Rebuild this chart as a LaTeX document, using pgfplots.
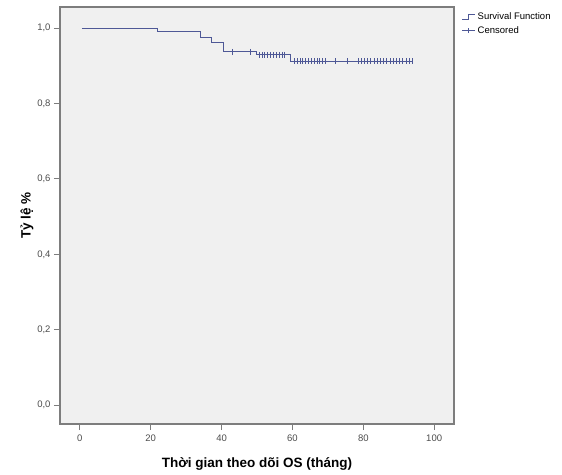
\documentclass[border=0pt]{standalone}
\usepackage{pgfplots}
\pgfplotsset{compat=1.18}
\usepackage{fontspec}
\setmainfont{Liberation Sans}
\definecolor{kmline}{RGB}{78,88,150}
\definecolor{plotbg}{RGB}{240,240,240}
\definecolor{framegray}{RGB}{125,125,125}
\begin{document}
\begin{tikzpicture}
\path[use as bounding box] (-60pt,-50pt) rectangle (502pt,424pt);
\begin{axis}[
  scale only axis, width=394pt, height=417pt,
  at={(0pt,0pt)}, anchor=south west,
  xmin=-5.6, xmax=105.6, ymin=-0.05, ymax=1.056,
  xtick={0,20,...,100}, ytick={0,0.2,...,1.0},
  tick align=outside, tick pos=left,
  major tick length=6pt,
  every tick/.style={framegray, line width=0.9pt},
  axis line style={framegray, line width=1.2pt},
  axis background/.style={fill=plotbg},
  /pgf/number format/assume math mode=true,
  yticklabel style={/pgf/number format/.cd, fixed, fixed zerofill, precision=1, use comma},
  xticklabel style={yshift=-1pt},
  tick label style={font=\fontsize{9.5}{10}\selectfont, text=black!70},
  xlabel={\textbf{Thời gian theo dõi OS (tháng)}},
  ylabel={\textbf{Tỷ lệ \%}},
  label style={font=\fontsize{13.5}{15}\selectfont},
  xlabel style={yshift=-9pt},
  ylabel style={yshift=-3pt},
  legend style={at={(1.02,0.993)}, anchor=north west, draw=none, fill=none,
    font=\fontsize{9.5}{10}\selectfont, inner sep=0pt, row sep=2pt},
  legend cell align=left,
]
\addplot[const plot, kmline, line width=0.8pt,
  legend image code/.code={\draw[kmline, line width=0.6pt] (0pt,-2.5pt) -- (6pt,-2.5pt) -- (6pt,2.5pt) -- (13pt,2.5pt);}]
  coordinates {(0.6,1.0) (22,0.99) (34,0.975) (37,0.963) (40.5,0.937) (49.7,0.929) (59.3,0.912) (93.8,0.912)};
\addlegendentry{Survival Function}
\addplot[only marks, kmline, mark=|, mark size=3pt, mark options={line width=0.6pt},
  legend image code/.code={\draw[kmline, line width=0.6pt] (0pt,0pt) -- (13pt,0pt); \draw[kmline, line width=0.6pt] (6pt,-2.5pt) -- (6pt,2.5pt);}]
  coordinates {
  (43,0.937) (48,0.937)
  (50.6,0.929) (51.4,0.929) (52.2,0.929) (53,0.929) (53.8,0.929) (54.6,0.929) (55.4,0.929) (56.2,0.929) (57,0.929) (57.8,0.929)
  (60.5,0.912) (61.3,0.912) (62.1,0.912) (62.9,0.912) (63.7,0.912) (64.5,0.912) (65.3,0.912) (66.1,0.912) (66.9,0.912) (67.7,0.912) (68.5,0.912) (69.3,0.912)
  (72,0.912) (75.5,0.912)
  (78.5,0.912) (79.4,0.912) (80.3,0.912) (81.2,0.912) (82.1,0.912) (83,0.912) (83.9,0.912) (84.8,0.912) (85.7,0.912) (86.6,0.912) (87.5,0.912) (88.4,0.912) (89.3,0.912) (90.2,0.912) (91.1,0.912) (92,0.912) (92.9,0.912) (93.8,0.912)
  };
\addlegendentry{Censored}
\end{axis}
\end{tikzpicture}
\end{document}
